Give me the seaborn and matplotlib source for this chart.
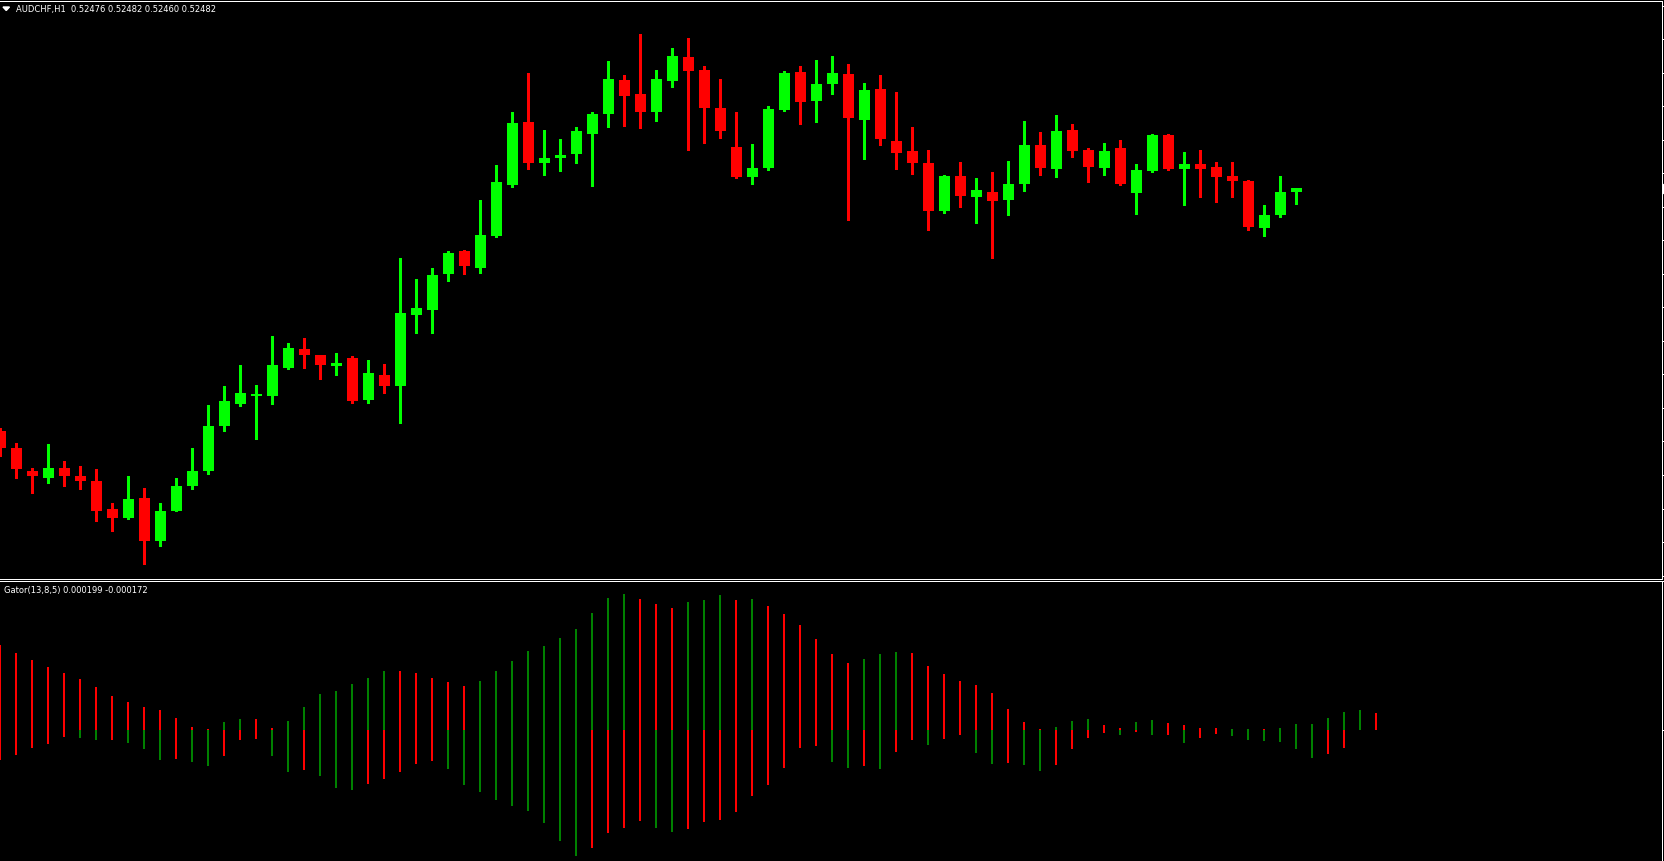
import numpy as np
import pandas as pd
import matplotlib
matplotlib.use('Agg')
import matplotlib.pyplot as plt
from matplotlib.patches import Polygon, Rectangle
import seaborn as sns

sns.set_style('dark', rc={
    'axes.facecolor': 'black',
    'figure.facecolor': 'black',
    'axes.edgecolor': 'white',
    'text.color': 'white',
    'axes.grid': False,
})
plt.rcParams['font.family'] = ['DejaVu Sans']

# ---------------- data ----------------
symbol = 'AUDCHF,H1'
ohlc_now = ['0.52476', '0.52482', '0.52460', '0.52482']
gator_name = 'Gator(13,8,5)'
gator_now = ['0.000199', '-0.000172']

# prices in points (1 point = 0.00001)
opens = [52143, 52118, 52087, 52077, 52090, 52080, 52073, 52033, 52020, 52048,
         51989, 52031, 52066, 52086, 52149, 52180, 52191, 52191, 52231, 52257,
         52248, 52233, 52244, 52185, 52220, 52205, 52304, 52311, 52362, 52394,
         52371, 52415, 52486, 52574, 52517, 52524, 52530, 52558, 52586, 52633,
         52614, 52588, 52632, 52665, 52647, 52594, 52539, 52497, 52510, 52591,
         52644, 52604, 52628, 52642, 52577, 52621, 52548, 52534, 52517, 52450,
         52499, 52469, 52476, 52465, 52488, 52542, 52509, 52563, 52535, 52510,
         52538, 52475, 52506, 52556, 52509, 52516, 52511, 52499, 52492, 52426,
         52444, 52476]
highs = [52147, 52125, 52090, 52124, 52100, 52094, 52089, 52042, 52079, 52063,
         52041, 52076, 52119, 52178, 52205, 52234, 52206, 52275, 52265, 52272,
         52249, 52251, 52247, 52241, 52236, 52385, 52355, 52370, 52394, 52395,
         52465, 52514, 52588, 52643, 52563, 52551, 52567, 52588, 52660, 52640,
         52698, 52647, 52678, 52692, 52653, 52635, 52588, 52544, 52597, 52646,
         52653, 52661, 52667, 52656, 52629, 52640, 52616, 52567, 52535, 52500,
         52518, 52496, 52504, 52520, 52576, 52560, 52584, 52572, 52538, 52545,
         52549, 52516, 52558, 52558, 52532, 52535, 52518, 52518, 52493, 52458,
         52499, 52482]
lows = [52108, 52077, 52055, 52069, 52066, 52061, 52017, 52002, 52019, 51956,
        51982, 52030, 52061, 52082, 52143, 52177, 52131, 52180, 52229, 52230,
        52215, 52220, 52181, 52182, 52196, 52154, 52279, 52280, 52352, 52362,
        52364, 52413, 52483, 52509, 52500, 52506, 52517, 52485, 52567, 52569,
        52566, 52576, 52623, 52535, 52545, 52552, 52496, 52488, 52507, 52590,
        52572, 52574, 52614, 52437, 52523, 52542, 52509, 52502, 52423, 52447,
        52455, 52433, 52385, 52444, 52478, 52500, 52497, 52525, 52490, 52500,
        52486, 52446, 52505, 52508, 52458, 52469, 52462, 52469, 52423, 52415,
        52441, 52460]
closes = [52118, 52089, 52079, 52091, 52080, 52072, 52031, 52021, 52047, 51989,
          52031, 52066, 52087, 52150, 52184, 52195, 52194, 52234, 52258, 52248,
          52234, 52238, 52184, 52223, 52205, 52308, 52315, 52360, 52392, 52373,
          52416, 52490, 52573, 52517, 52524, 52528, 52562, 52586, 52635, 52611,
          52588, 52635, 52667, 52646, 52594, 52562, 52497, 52510, 52593, 52643,
          52602, 52628, 52643, 52580, 52619, 52551, 52531, 52517, 52450, 52499,
          52471, 52479, 52464, 52488, 52542, 52510, 52562, 52534, 52511, 52534,
          52488, 52507, 52556, 52509, 52516, 52509, 52497, 52492, 52427, 52444,
          52476, 52482]

# gator histogram in points, upper (jaw-teeth) and lower (teeth-lips)
gator_up = [85, 77, 70, 63, 57, 51, 43, 34, 28, 23,
            20, 12, 3, 1, 8, 11, 11, 2, 9, 23,
            36, 39, 46, 52, 59, 59, 57, 52, 48, 44,
            49, 59, 69, 79, 84, 92, 101, 117, 132, 136,
            131, 126, 122, 128, 130, 135, 130, 131, 124, 116,
            105, 91, 76, 67, 71, 76, 78, 77, 64, 56,
            49, 45, 37, 21, 8, 1, 3, 9, 11, 5,
            2, 8, 10, 7, 5, 2, 2, 1, 1, 1,
            2, 6, 6, 12, 18, 20, 17]
gator_up_dir = ('RRRRRRRRRRRRRR' 'GG' 'RR' 'GGGGGGG' 'RRRRR' 'GGGGGGGGGG'
                'RRR' 'GGG' 'R' 'G' 'RRRRRR' 'GGG' 'RRRRRRRRR' 'GGG' 'RR'
                'GG' 'RRRR' 'GG' 'R' 'GGGGGG' 'R')
gator_dn = [30, 25, 18, 14, 7, 8, 10, 10, 13, 19,
            30, 29, 32, 36, 26, 10, 9, 26, 42, 40,
            46, 58, 60, 54, 49, 42, 34, 31, 39, 55,
            62, 70, 76, 81, 93, 111, 126, 118, 103, 98,
            91, 98, 102, 99, 92, 90, 82, 66, 55, 38,
            18, 16, 32, 38, 36, 39, 22, 10, 15, 9,
            5, 23, 34, 33, 35, 41, 35, 19, 8, 3,
            5, 2, 5, 5, 13, 8, 4, 6, 10, 11,
            12, 19, 28, 24, 18]
gator_dn_dir = ('RRRRR' 'GG' 'R' 'GGG' 'R' 'GG' 'RRR' 'GG' 'R' 'GGG' 'RRRRR'
                'GGGGGGGGG' 'RRRR' 'GG' 'RRRRRRRRR' 'GG' 'R' 'G' 'RR' 'G' 'RR'
                'GG' 'R' 'GG' 'RRRR' 'G' 'R' 'G' 'R' 'G' 'RR' 'GGGGGG' 'RR')

# ---------------- figure ----------------
W, H = 1665, 862
fig = plt.figure(figsize=(W / 100, H / 100), dpi=100)
# frame lines placed on pixel centres so they stay crisp
ax = fig.add_axes([0, (H - 579.5) / H, 1662.5 / W, 578.0 / H])
ax2 = fig.add_axes([0, 0, 1662.5 / W, (H - 581.5) / H])

bull, bear = '#00FF00', '#FF0000'
df = pd.DataFrame({'o': opens, 'h': highs, 'l': lows, 'c': closes}) * 1e-5
idx = np.arange(len(df))
col = np.where(df.c >= df.o, bull, bear)

ax.vlines(idx, df.l, df.h, colors=col, linewidth=1.0, antialiased=False)
body = (df.c - df.o).abs().clip(lower=1.4e-5)
ax.bar(idx, body, bottom=np.minimum(df.o, df.c), width=0.69, color=col,
       linewidth=0, antialiased=False)

xlim = (-0.5 / 16, 1662 / 16)
ax.set_xlim(*xlim)
ax.set_ylim(0.519360, 0.527445)

# gator histogram
pal = {'G': '#008000', 'R': '#FF0000'}
gu = pd.DataFrame({'bar': np.arange(len(gator_up)),
                   'value': np.array(gator_up) * 1e-5,
                   'dir': list(gator_up_dir)})
gd = pd.DataFrame({'bar': np.arange(len(gator_dn)),
                   'value': -np.array(gator_dn) * 1e-5,
                   'dir': list(gator_dn_dir)})
for d in (gu, gd):
    sns.barplot(data=d, x='bar', y='value', hue='dir', palette=pal,
                native_scale=True, dodge=False, width=0.125, saturation=1,
                linewidth=0, errorbar=None, legend=False, ax=ax2)
ax2.set_xlim(*xlim)
ax2.set_ylim(-131e-5, 150e-5)
ax2.set_xlabel('')
ax2.set_ylabel('')

for a in (ax, ax2):
    a.set_facecolor('black')
    a.set_xticks([])
    a.yaxis.tick_right()
    a.tick_params(axis='y', colors='white', length=2.2, width=0.72,
                  direction='out', labelright=False, labelleft=False)
    a.spines['left'].set_visible(False)
    for s in ('top', 'right', 'bottom'):
        a.spines[s].set_color('white')
        a.spines[s].set_linewidth(0.72)
ax2.spines['bottom'].set_visible(False)

ax.set_yticks(np.arange(52737.4, 51930, -46.9) * 1e-5)
ax2.set_yticks([0, 149e-5])

# current price marker on the right edge
ax.add_patch(Rectangle((1.0006, df.c.iloc[-1] - 6.3e-5), 0.0012, 12.6e-5,
                       transform=ax.get_yaxis_transform(), color='white',
                       clip_on=False))

# header texts
fig.patches.append(Polygon([[3 / W, 1 - 8 / H], [9.5 / W, 1 - 8 / H],
                            [6.25 / W, 1 - 11.5 / H]],
                           transform=fig.transFigure, color='white'))
fig.text(16 / W, 1 - 12 / H, symbol + '  ' + ' '.join(ohlc_now),
         fontsize=6, color='white', va='baseline', ha='left')
fig.text(4 / W, 1 - 593 / H, gator_name + ' ' + ' '.join(gator_now),
         fontsize=6, color='white', va='baseline', ha='left')

fig.savefig('out.png', dpi=100, facecolor='black')
